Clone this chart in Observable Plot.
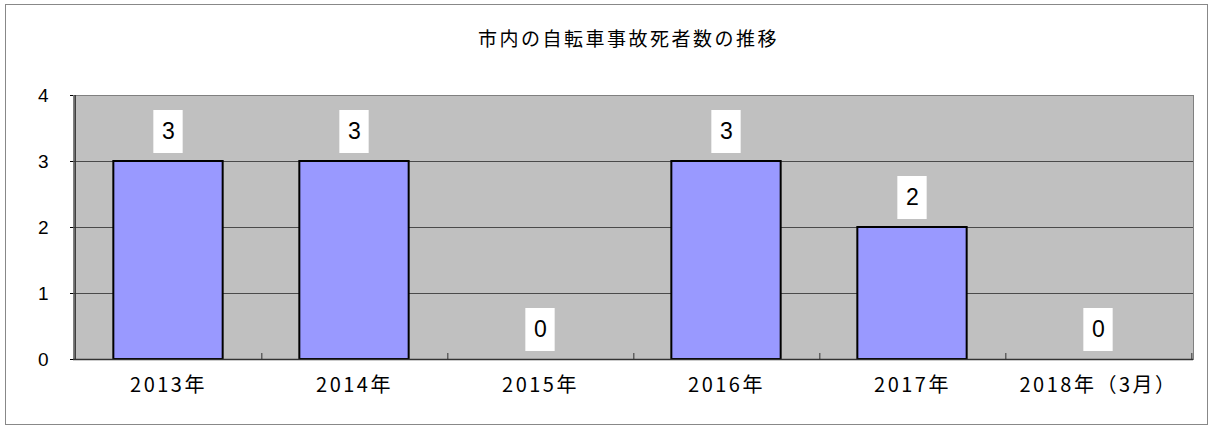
<!DOCTYPE html>
<html><head><meta charset="utf-8">
<script src="https://cdn.jsdelivr.net/npm/d3@7"></script>
<script src="https://cdn.jsdelivr.net/npm/@observablehq/plot@0.6"></script>
<style>
html,body{margin:0;padding:0;background:#fff;}
#wrap{position:relative;width:1213px;height:430px;overflow:hidden;}
#border{position:absolute;left:5px;top:4px;width:1201px;height:419px;border:1px solid #888;}
#title{position:absolute;left:44px;top:25px;width:1169px;text-align:center;font-family:"Noto Sans CJK JP","Noto Sans",sans-serif;font-size:19px;letter-spacing:2.5px;line-height:26px;color:#000;}
#chart{position:absolute;left:0;top:54px;}
</style></head>
<body>
<div id="wrap"><div id="border"></div><div id="title">市内の自転車事故死者数の推移</div><div id="chart"></div></div>
<script>
const categories = ["2013年","2014年","2015年","2016年","2017年","2018年（3月）"];
const values = [3,3,0,3,2,0];
const yTicks = [0,1,2,3,4];
const gridValues = [1,2,3];

const data = categories.map((c,i)=>({cat:c, v:values[i]}));
const W = 1213, H = 376, mL = 73, mR = 20, mT = 41, mB = 71;
const bw = (W - mL - mR) / categories.length;
const font = '"Noto Sans CJK JP","Noto Sans",sans-serif';
const latin = '"Liberation Sans", Arial, sans-serif';

const plot = Plot.plot({
  width: W, height: H,
  marginLeft: mL, marginRight: mR, marginTop: mT, marginBottom: mB,
  style: {fontFamily: font, fontSize: "16px", color: "#000", background: "transparent"},
  x: {domain: categories, padding: 0, label: null},
  y: {domain: [0,4], label: null},
  marks: [
    Plot.frame({fill: "#c0c0c0", stroke: "#808080"}),
    Plot.ruleY(gridValues, {stroke: "#4a4a4a", strokeWidth: 1}),
    Plot.barY(data, {x: "cat", y: "v", fill: "#9999ff", stroke: "#000", strokeWidth: 2, insetLeft: (bw-110)/2, insetRight: (bw-110)/2}),
    Plot.ruleX(categories, {x: d=>d, dx: bw/2, y1: 0, y2: 0, insetTop: -6, stroke: "#333"}),
    Plot.ruleY([0], {stroke: "#333", strokeWidth: 1.5}),
    Plot.ruleX([categories[0]], {x: d=>d, dx: -bw/2, y1: 0, y2: 4, stroke: "#333", strokeWidth: 1.5}),
    Plot.barY(data, {x: "cat", y1: "v", y2: "v", fill: "#fff", insetTop: -51, insetBottom: 8, insetLeft: (bw-30)/2, insetRight: (bw-30)/2}),
    Plot.text(data, {x: "cat", y: "v", text: d=>String(d.v), dy: -29.5, fontSize: 23, fill: "#000", fontFamily: latin}),
    Plot.axisY({ticks: yTicks, tickSize: 3, tickPadding: 22, fontSize: 19, fontFamily: latin, label: null, tickFormat: d=>String(d)}),
    Plot.axisX({tickSize: 0, tickPadding: 18, fontSize: 20, label: null})
  ]
});
d3.select(plot).selectAll('g[aria-label="x-axis tick label"] text').style("letter-spacing", "2.5px");
document.getElementById("chart").appendChild(plot);
</script>
</body></html>
